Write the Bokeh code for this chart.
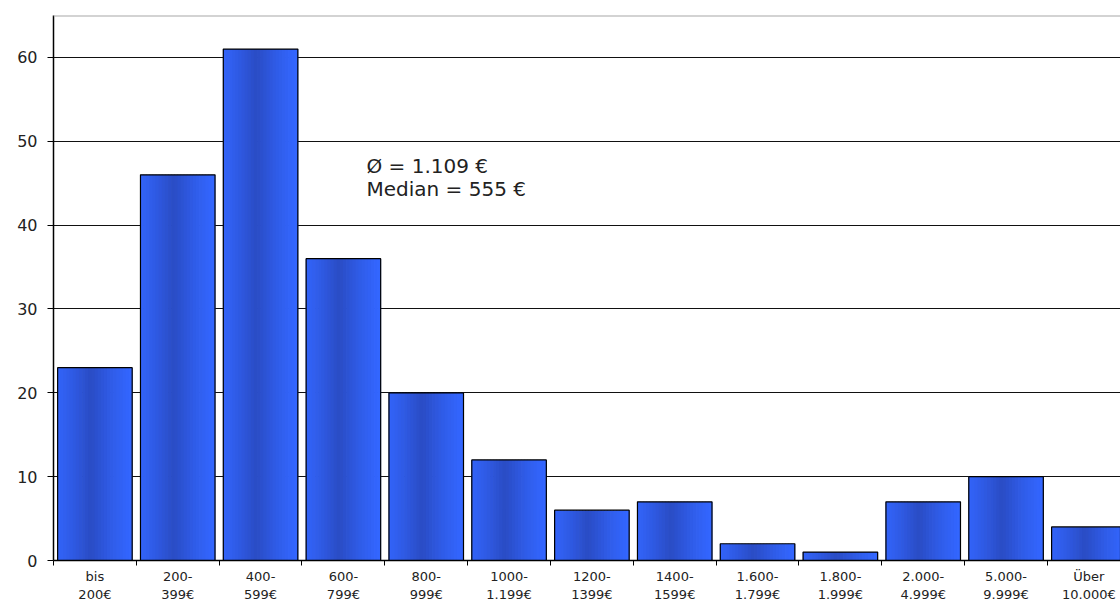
from bokeh.plotting import figure
from bokeh.models import FixedTicker, Span, Label, ColumnDataSource, Range1d
from bokeh.embed import file_html
from bokeh.resources import INLINE

# ---- data ----
label_line1 = ["bis", "200-", "400-", "600-", "800-", "1000-", "1200-", "1400-",
               "1.600-", "1.800-", "2.000-", "5.000-", "Über"]
label_line2 = ["200€", "399€", "599€", "799€", "999€", "1.199€", "1399€", "1599€",
               "1.799€", "1.999€", "4.999€", "9.999€", "10.000€"]
counts = [23, 46, 61, 36, 20, 12, 6, 7, 2, 1, 7, 10, 4]
y_ticks = [0, 10, 20, 30, 40, 50, 60]
mean_text = "Ø = 1.109 €"
median_text = "Median = 555 €"

n = len(counts)
centers = list(range(1, n + 1))
bar_w = 0.9

W, H = 1120, 604
left, top = 53, 15
p = figure(width=W, height=H, output_backend="svg", toolbar_location=None,
           x_range=Range1d(0.5, 0.5 + (W - left) / 82.83), y_range=Range1d(0, 65),
           min_border_left=left, min_border_right=0, min_border_top=top, min_border_bottom=0)
p.outline_line_color = None
p.background_fill_color = "white"
p.border_fill_color = "white"

# grid
p.xgrid.visible = False
p.ygrid.ticker = FixedTicker(ticks=[t for t in y_ticks if t > 0])
p.ygrid.grid_line_color = "#111111"
p.ygrid.grid_line_width = 1

# gradient bars as thin strips
N = 24
edge = (0x33, 0x66, 0xFF)
mid = (0x2A, 0x4C, 0xC4)
xs, tops, cols = [], [], []
for c, v in zip(centers, counts):
    for j in range(N):
        u = (j + 0.5) / N
        d = abs(u - 0.45) / 0.55
        f = max(0.0, 1 - d) ** 1.3
        col = tuple(int(round(edge[k] + (mid[k] - edge[k]) * f)) for k in range(3))
        xs.append(c - bar_w / 2 + (j + 0.5) * bar_w / N)
        tops.append(v)
        cols.append("#%02x%02x%02x" % col)
src = ColumnDataSource(dict(x=xs, top=tops, color=cols))
p.vbar(x="x", top="top", bottom=0, width=bar_w / N * 1.25, fill_color="color",
       line_color=None, source=src)
p.vbar(x=centers, top=counts, bottom=0, width=bar_w, fill_color=None,
       line_color="black", line_width=1.2)

# top border
p.add_layout(Span(location=65, dimension="width", line_color="#a8a8a8", line_width=2))

# x axis
xa = p.xaxis[0]
xa.ticker = FixedTicker(ticks=centers, minor_ticks=[c - 0.5 for c in centers] + [n + 0.5])
xa.major_label_overrides = {c: f"{a}\n{b}" for c, a, b in zip(centers, label_line1, label_line2)}
xa.major_tick_line_color = None
xa.major_tick_out = 0
xa.major_tick_in = 0
xa.minor_tick_line_color = "black"
xa.minor_tick_out = 5
xa.minor_tick_in = 0
xa.axis_line_color = "black"
xa.axis_line_width = 1.5
xa.major_label_standoff = 3
xa.major_label_text_font = "DejaVu Sans"
xa.major_label_text_font_size = "13px"
xa.major_label_text_color = "#222222"
xa.major_label_text_line_height = 1.2

# y axis
ya = p.yaxis[0]
ya.ticker = FixedTicker(ticks=y_ticks)
ya.minor_tick_line_color = None
ya.major_tick_out = 6
ya.major_tick_in = 0
ya.major_tick_line_color = "black"
ya.axis_line_color = "black"
ya.axis_line_width = 1.5
ya.major_label_standoff = 10
ya.major_label_text_font = "DejaVu Sans"
ya.major_label_text_font_size = "16px"
ya.major_label_text_color = "#222222"

# annotation
for txt, yv in [(mean_text, 47.1), (median_text, 44.35)]:
    p.add_layout(Label(x=0.5 + (366 - left) / 82.83, y=yv, text=txt, text_font="DejaVu Sans",
                       text_font_size="20px", text_color="#222222",
                       text_baseline="middle", text_align="left"))

open("out.html", "w").write(file_html(p, INLINE))
